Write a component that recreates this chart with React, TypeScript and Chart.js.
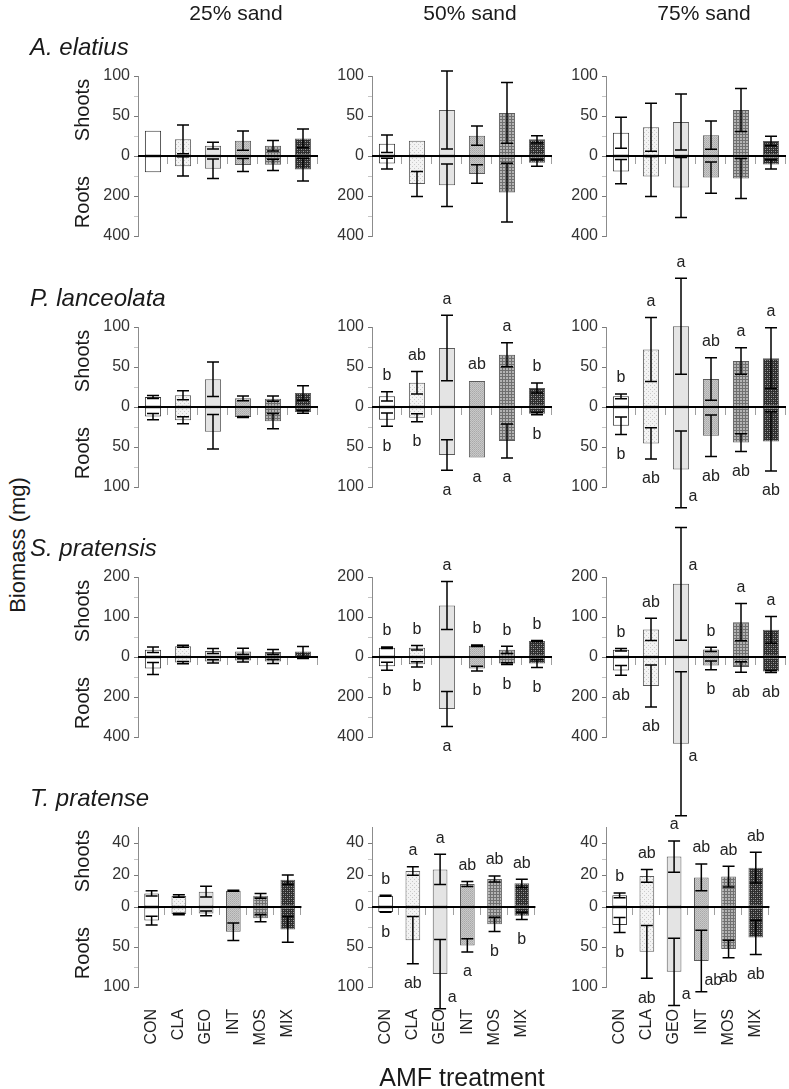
import React, { useEffect, useRef } from "react";
import { Chart, registerables } from "chart.js";

Chart.register(...registerables);

const FONT = "'Liberation Sans', Arial, Helvetica, sans-serif";

// ---------------- DATA ----------------
const treatments = ["CON", "CLA", "GEO", "INT", "MOS", "MIX"];
const sandLevels = ["25% sand", "50% sand", "75% sand"];
const speciesNames = ["A. elatius", "P. lanceolata", "S. pratensis", "T. pratense"];

// A. elatius (rows = 25%, 50%, 75% sand; columns = treatments)
const elatiusShoot = [
  [31.7, 20.8, 12.9, 19.2, 12.9, 22],
  [15.4, 19, 57.5, 25.4, 53.8, 20.8],
  [29, 36, 42.5, 26, 57.5, 18.8],
];
const elatiusShootSE = [
  [0, 18, 4.3, 12, 6.5, 11.7],
  [11, 0, 48.6, 12, 38, 4.5],
  [19.4, 30, 35, 17.6, 27, 6],
];
const elatiusRoot = [
  [81.7, 51.7, 64, 45, 44, 68],
  [38, 140, 146, 90, 183, 34],
  [78, 103, 158, 108, 112, 42],
];
const elatiusRootSE = [
  [0, 48, 49, 33, 28, 57],
  [27, 62, 106, 46.7, 147, 17],
  [61, 100, 150, 78, 100, 23],
];
const elatiusShootLetters = [
  ["", "", "", "", "", ""],
  ["", "", "", "", "", ""],
  ["", "", "", "", "", ""],
];
const elatiusRootLetters = [
  ["", "", "", "", "", ""],
  ["", "", "", "", "", ""],
  ["", "", "", "", "", ""],
];

// P. lanceolata
const lanceolataShoot = [
  [12.5, 14.6, 34.6, 10.8, 10.4, 17.5],
  [13.3, 30.4, 73.8, 32.5, 65.4, 23.8],
  [13.3, 72, 101, 35, 57.5, 61],
];
const lanceolataShootSE = [
  [2, 5.6, 21.6, 3, 3.3, 9],
  [5.8, 14, 41, 0, 15, 6.3],
  [3, 40, 60, 26.5, 16.5, 38],
];
const lanceolataRoot = [
  [12, 16.5, 31, 12.5, 17.7, 6.3],
  [15.8, 13.3, 60, 63, 42.5, 8.3],
  [23.5, 45.5, 78, 36, 44.5, 43],
];
const lanceolataRootSE = [
  [4, 4.4, 21.5, 0.5, 9.5, 1.5],
  [8.3, 5, 19, 0, 21.3, 1.5],
  [11, 19.5, 48, 26, 11, 37],
];
const lanceolataShootLetters = [
  ["", "", "", "", "", ""],
  ["b", "ab", "a", "ab", "a", "b"],
  ["b", "a", "a", "ab", "a", "a"],
];
const lanceolataRootLetters = [
  ["", "", "", "", "", ""],
  ["b", "b", "a", "a", "a", "b"],
  ["b", "ab", "a", "ab", "ab", "ab"],
];

// S. pratensis
const pratensisShoot = [
  [18, 26.7, 15, 14, 12.5, 14],
  [23.3, 23.3, 129, 28, 18, 40],
  [18, 69, 183, 19, 87, 68],
];
const pratensisShootSE = [
  [6.7, 2.5, 6, 8, 6, 12],
  [2, 5.5, 60, 2, 9, 1],
  [3, 28, 141, 5.5, 46.5, 33.5],
];
const pratensisRoot = [
  [57, 28, 22, 17, 23, 5],
  [46.7, 36.7, 260, 58, 33, 33],
  [67, 145, 434, 42, 50, 73],
];
const pratensisRootSE = [
  [30, 6, 8, 8, 10, 2],
  [20, 13, 87, 12, 4, 20],
  [24, 105, 360, 21.5, 26, 5],
];
const pratensisShootLetters = [
  ["", "", "", "", "", ""],
  ["b", "b", "a", "b", "b", "b"],
  ["b", "ab", "a", "b", "a", "a"],
];
const pratensisRootLetters = [
  ["", "", "", "", "", ""],
  ["b", "b", "a", "b", "b", "b"],
  ["ab", "ab", "a", "b", "ab", "ab"],
];

// T. pratense
const pratenseShoot = [
  [8.5, 6.9, 9.6, 10.2, 7, 17],
  [7, 22.5, 23.5, 14.4, 17.5, 14.8],
  [7.3, 19.4, 31.5, 18.5, 19, 24.6],
];
const pratenseShootSE = [
  [1.7, 0.8, 3.3, 0.3, 1.5, 3],
  [0.3, 2.7, 9.4, 1.6, 1.9, 2.6],
  [1.5, 4, 9.8, 8.4, 6.5, 9.6],
];
const pratenseRoot = [
  [17, 8.8, 8, 31, 14, 28],
  [6.3, 41.5, 83.8, 48, 21.7, 11],
  [22.5, 56, 81, 67.5, 52.5, 38],
];
const pratenseRootSE = [
  [5.5, 1, 3, 11, 4.5, 16],
  [0.3, 29.5, 43.3, 8.3, 9, 4.5],
  [9.5, 33, 42, 38.5, 11, 21.5],
];
const pratenseShootLetters = [
  ["", "", "", "", "", ""],
  ["b", "a", "a", "ab", "ab", "ab"],
  ["b", "ab", "a", "ab", "ab", "ab"],
];
const pratenseRootLetters = [
  ["", "", "", "", "", ""],
  ["b", "ab", "a", "a", "b", "b"],
  ["b", "ab", "a", "ab", "ab", "ab"],
];

// Tick values (axis units) and their printed labels
const elatiusTickValues = [100, 50, 0, -50, -100];
const elatiusTickLabels = ["100", "50", "0", "200", "400"];
const elatiusMinorTicks = [75, 25, -25, -75];
const lanceolataTickValues = [100, 50, 0, -50, -100];
const lanceolataTickLabels = ["100", "50", "0", "50", "100"];
const lanceolataMinorTicks = [75, 25, -25, -75];
const pratensisTickValues = [200, 100, 0, -100, -200];
const pratensisTickLabels = ["200", "100", "0", "200", "400"];
const pratensisMinorTicks = [150, 50, -50, -150];
const pratenseTickValues = [40, 20, 0, -25, -50];
const pratenseTickLabels = ["40", "20", "0", "50", "100"];
const pratenseMinorTicks = [30, 10, -12.5, -37.5];

// ---------------- LAYOUT / STYLE ----------------
const axisConfig = [
  { min: -100, max: 100, rootScale: 0.25 },
  { min: -100, max: 100, rootScale: 1 },
  { min: -200, max: 200, rootScale: 0.5 },
  { min: -50, max: 50, rootScale: 0.5 },
];
// letters drawn beside the whisker instead of beyond its end: [row, col, treatment, side]
const besideLetters: [number, number, number, string][] = [
  [1, 2, 2, "root"],
  [2, 2, 2, "shoot"],
  [2, 2, 2, "root"],
  [3, 1, 2, "root"],
  [3, 2, 2, "root"],
  [3, 2, 3, "root"],
];

const ROW_TOP = [76, 327, 577, 827];
const COL_AXIS = [138, 372, 606];
const PAD_TOP = 80;
const PLOT_H = 160;
const PAD_BOTTOM = 95;
const Y_AXIS_W = 50;
const PLOT_W = 180;
const PAD_RIGHT = 12;

const speciesTable = [
  { shoot: elatiusShoot, shootSE: elatiusShootSE, root: elatiusRoot, rootSE: elatiusRootSE, sl: elatiusShootLetters, rl: elatiusRootLetters, tv: elatiusTickValues, tl: elatiusTickLabels, tm: elatiusMinorTicks },
  { shoot: lanceolataShoot, shootSE: lanceolataShootSE, root: lanceolataRoot, rootSE: lanceolataRootSE, sl: lanceolataShootLetters, rl: lanceolataRootLetters, tv: lanceolataTickValues, tl: lanceolataTickLabels, tm: lanceolataMinorTicks },
  { shoot: pratensisShoot, shootSE: pratensisShootSE, root: pratensisRoot, rootSE: pratensisRootSE, sl: pratensisShootLetters, rl: pratensisRootLetters, tv: pratensisTickValues, tl: pratensisTickLabels, tm: pratensisMinorTicks },
  { shoot: pratenseShoot, shootSE: pratenseShootSE, root: pratenseRoot, rootSE: pratenseRootSE, sl: pratenseShootLetters, rl: pratenseRootLetters, tv: pratenseTickValues, tl: pratenseTickLabels, tm: pratenseMinorTicks },
];

function makeFill(kind: string): any {
  const c = document.createElement("canvas");
  const g = c.getContext("2d")!;
  const px = (x: number, y: number, col: string) => {
    g.fillStyle = col;
    g.fillRect(x, y, 1, 1);
  };
  if (kind === "CON") return "#ffffff";
  if (kind === "GEO") return "#e4e4e4";
  if (kind === "CLA") {
    c.width = 4; c.height = 4;
    g.fillStyle = "#f3f3f3"; g.fillRect(0, 0, 4, 4);
    px(0, 0, "#cacaca"); px(2, 2, "#cacaca");
  } else if (kind === "INT") {
    c.width = 2; c.height = 2;
    g.fillStyle = "#c8c8c8"; g.fillRect(0, 0, 2, 2);
    px(0, 0, "#a9a9a9"); px(1, 1, "#b4b4b4");
  } else if (kind === "MOS") {
    c.width = 3; c.height = 3;
    g.fillStyle = "#b4b4b4"; g.fillRect(0, 0, 3, 3);
    g.fillStyle = "#707070"; g.fillRect(0, 0, 3, 1); g.fillRect(0, 0, 1, 3);
  } else if (kind === "MIX") {
    c.width = 4; c.height = 4;
    g.fillStyle = "#2e2e2e"; g.fillRect(0, 0, 4, 4);
    px(1, 1, "#a0a0a0"); px(3, 3, "#a0a0a0"); px(1, 3, "#6a6a6a"); px(3, 1, "#6a6a6a");
  }
  return g.createPattern(c, "repeat");
}

function marksPlugin(row: number, col: number) {
  const sp = speciesTable[row];
  const f = axisConfig[row].rootScale;
  const shoot = sp.shoot[col], shootSE = sp.shootSE[col];
  const root = sp.root[col], rootSE = sp.rootSE[col];
  const sl = sp.sl[col], rl = sp.rl[col];
  const beside = (i: number, side: string) =>
    besideLetters.some((b) => b[0] === row && b[1] === col && b[2] === i && b[3] === side);
  return {
    id: "marks",
    afterDatasetsDraw(chart: any) {
      const { ctx, chartArea } = chart;
      const xs = chart.scales.x;
      const ys = chart.scales.y;
      const y0 = ys.getPixelForValue(0);
      const step = xs.getPixelForValue(1) - xs.getPixelForValue(0);
      ctx.save();
      // category boundary ticks below zero line
      ctx.strokeStyle = "#a0a0a0";
      ctx.lineWidth = 1;
      for (let i = 0; i < treatments.length; i++) {
        const bx = Math.round(xs.getPixelForValue(i) + step / 2) - 0.5;
        ctx.beginPath();
        ctx.moveTo(bx, y0);
        ctx.lineTo(bx, y0 + 8);
        ctx.stroke();
      }
      // zero line
      ctx.strokeStyle = "#000";
      ctx.lineWidth = 2;
      ctx.beginPath();
      ctx.moveTo(chartArea.left, y0);
      ctx.lineTo(chartArea.right, y0);
      ctx.stroke();
      // whiskers
      ctx.lineWidth = 1.5;
      const cap = 6;
      const whisker = (cx: number, a: number, b: number) => {
        ctx.beginPath();
        ctx.moveTo(cx, a); ctx.lineTo(cx, b);
        ctx.moveTo(cx - cap, a); ctx.lineTo(cx + cap, a);
        ctx.moveTo(cx - cap, b); ctx.lineTo(cx + cap, b);
        ctx.stroke();
      };
      for (let i = 0; i < treatments.length; i++) {
        const cx = xs.getPixelForValue(i);
        if (shootSE[i] > 0)
          whisker(cx, ys.getPixelForValue(shoot[i] + shootSE[i]), ys.getPixelForValue(shoot[i] - shootSE[i]));
        if (rootSE[i] > 0)
          whisker(cx, ys.getPixelForValue(-(root[i] - rootSE[i]) * f), ys.getPixelForValue(-(root[i] + rootSE[i]) * f));
      }
      // letters
      ctx.fillStyle = "#222";
      ctx.font = `16px ${FONT}`;
      ctx.textAlign = "center";
      ctx.textBaseline = "middle";
      for (let i = 0; i < treatments.length; i++) {
        const cx = xs.getPixelForValue(i);
        if (sl[i]) {
          const endPx = ys.getPixelForValue(shoot[i] + shootSE[i]);
          const topPx = Math.min(ys.getPixelForValue(shoot[i]), endPx);
          if (beside(i, "shoot")) ctx.fillText(sl[i], cx + 12, Math.max(endPx + 11, chartArea.top - 11));
          else ctx.fillText(sl[i], cx, topPx - 16);
        }
        if (rl[i]) {
          const endPx = ys.getPixelForValue(-(root[i] + rootSE[i]) * f);
          const botPx = Math.max(ys.getPixelForValue(-root[i] * f), endPx);
          if (beside(i, "root")) ctx.fillText(rl[i], cx + 12, Math.min(botPx - 11, chartArea.bottom + 20));
          else ctx.fillText(rl[i], cx, botPx + 20);
        }
      }
      ctx.restore();
    },
  };
}

function buildConfig(row: number, col: number): any {
  const sp = speciesTable[row];
  const ax = axisConfig[row];
  const isLast = row === speciesTable.length - 1;
  const fills = treatments.map((t) => makeFill(t));
  const borders = treatments.map((t) => (t === "CON" ? "#3a3a3a" : "#5c5c5c"));
  const allTicks = [...sp.tv, ...sp.tm].sort((a, b) => b - a);
  const common = {
    backgroundColor: fills,
    borderColor: borders,
    borderWidth: 1,
    borderSkipped: false,
    barPercentage: 0.54,
    categoryPercentage: 1,
    clip: false,
  };
  return {
    type: "bar",
    data: {
      labels: treatments,
      datasets: [
        { label: "Shoots", data: sp.shoot[col], ...common },
        { label: "Roots", data: sp.root[col].map((v) => -v * ax.rootScale), ...common },
      ],
    },
    options: {
      animation: false,
      responsive: false,
      maintainAspectRatio: false,
      devicePixelRatio: 1,
      clip: false,
      layout: { padding: { top: PAD_TOP, bottom: isLast ? 0 : PAD_BOTTOM, left: 0, right: PAD_RIGHT } },
      plugins: { legend: { display: false }, tooltip: { enabled: false }, title: { display: false } },
      scales: {
        x: {
          type: "category",
          stacked: true,
          offset: true,
          display: isLast,
          grid: { display: false, drawTicks: false },
          border: { display: false },
          ticks: {
            autoSkip: false,
            maxRotation: 90,
            minRotation: 90,
            padding: 22,
            color: "#222",
            font: { family: FONT, size: 16 },
          },
          afterFit: (s: any) => {
            s.height = isLast ? PAD_BOTTOM : 0;
          },
        },
        y: {
          type: "linear",
          stacked: true,
          min: ax.min,
          max: ax.max,
          afterBuildTicks: (s: any) => {
            s.ticks = allTicks.map((v) => ({ value: v }));
          },
          afterFit: (s: any) => {
            s.width = Y_AXIS_W;
          },
          ticks: {
            autoSkip: false,
            padding: 4,
            color: "#333",
            font: { family: FONT, size: 16 },
            callback: (v: number) => {
              const k = sp.tv.indexOf(v);
              return k >= 0 ? sp.tl[k] : "";
            },
          },
          grid: {
            drawOnChartArea: false,
            drawTicks: true,
            tickLength: 4,
            tickColor: (c: any) => (c.tick && sp.tv.indexOf(c.tick.value) >= 0 ? "#7a7a7a" : "#c4c4c4"),
          },
          border: { display: true, color: "#8c8c8c", width: 1 },
        },
      },
    },
    plugins: [marksPlugin(row, col)],
  };
}

function Panel({ row, col }: { row: number; col: number }) {
  const ref = useRef<HTMLCanvasElement>(null);
  useEffect(() => {
    const chart = new Chart(ref.current as HTMLCanvasElement, buildConfig(row, col));
    return () => chart.destroy();
  }, [row, col]);
  const w = Y_AXIS_W + PLOT_W + PAD_RIGHT;
  const h = PAD_TOP + PLOT_H + PAD_BOTTOM;
  return (
    <canvas
      ref={ref}
      width={w}
      height={h}
      style={{ position: "absolute", left: COL_AXIS[col] - Y_AXIS_W, top: ROW_TOP[row] - PAD_TOP, width: w, height: h }}
    />
  );
}

function Text({ x, baseline, size, children, italic, center }: any) {
  return (
    <div
      style={{
        position: "absolute",
        left: x,
        top: baseline - 0.8465 * size,
        fontSize: size,
        lineHeight: 1,
        fontStyle: italic ? "italic" : "normal",
        whiteSpace: "nowrap",
        transform: center ? "translateX(-50%)" : undefined,
        color: "#1a1a1a",
      }}
    >
      {children}
    </div>
  );
}

function VText({ cx, cy, size, children }: any) {
  return (
    <div
      style={{
        position: "absolute",
        left: cx,
        top: cy,
        fontSize: size,
        lineHeight: 1,
        whiteSpace: "nowrap",
        transform: "translate(-50%, -50%) rotate(-90deg)",
        color: "#1a1a1a",
      }}
    >
      {children}
    </div>
  );
}

export default function App() {
  const panels = [];
  for (let r = 0; r < speciesNames.length; r++)
    for (let c = 0; c < sandLevels.length; c++) panels.push(<Panel key={`${r}-${c}`} row={r} col={c} />);
  return (
    <div
      style={{
        position: "fixed",
        left: 0,
        top: 0,
        width: 789,
        height: 1089,
        background: "#fff",
        overflow: "hidden",
        fontFamily: FONT,
      }}
    >
      {panels}
      {sandLevels.map((s, c) => (
        <Text key={s} x={COL_AXIS[c] + PLOT_W / 2 + 8} baseline={20} size={21} center>
          {s}
        </Text>
      ))}
      {speciesNames.map((s, r) => (
        <Text key={s} x={30} baseline={ROW_TOP[r] - 21} size={24} italic>
          {s}
        </Text>
      ))}
      {speciesNames.map((s, r) => (
        <React.Fragment key={"sr" + s}>
          <VText cx={82} cy={ROW_TOP[r] + PLOT_H / 2 - 46} size={20}>Shoots</VText>
          <VText cx={82} cy={ROW_TOP[r] + PLOT_H / 2 + 46} size={20}>Roots</VText>
        </React.Fragment>
      ))}
      <VText cx={18} cy={545} size={22}>Biomass (mg)</VText>
      <Text x={COL_AXIS[1] + PLOT_W / 2} baseline={1086} size={25} center>
        AMF treatment
      </Text>
    </div>
  );
}
